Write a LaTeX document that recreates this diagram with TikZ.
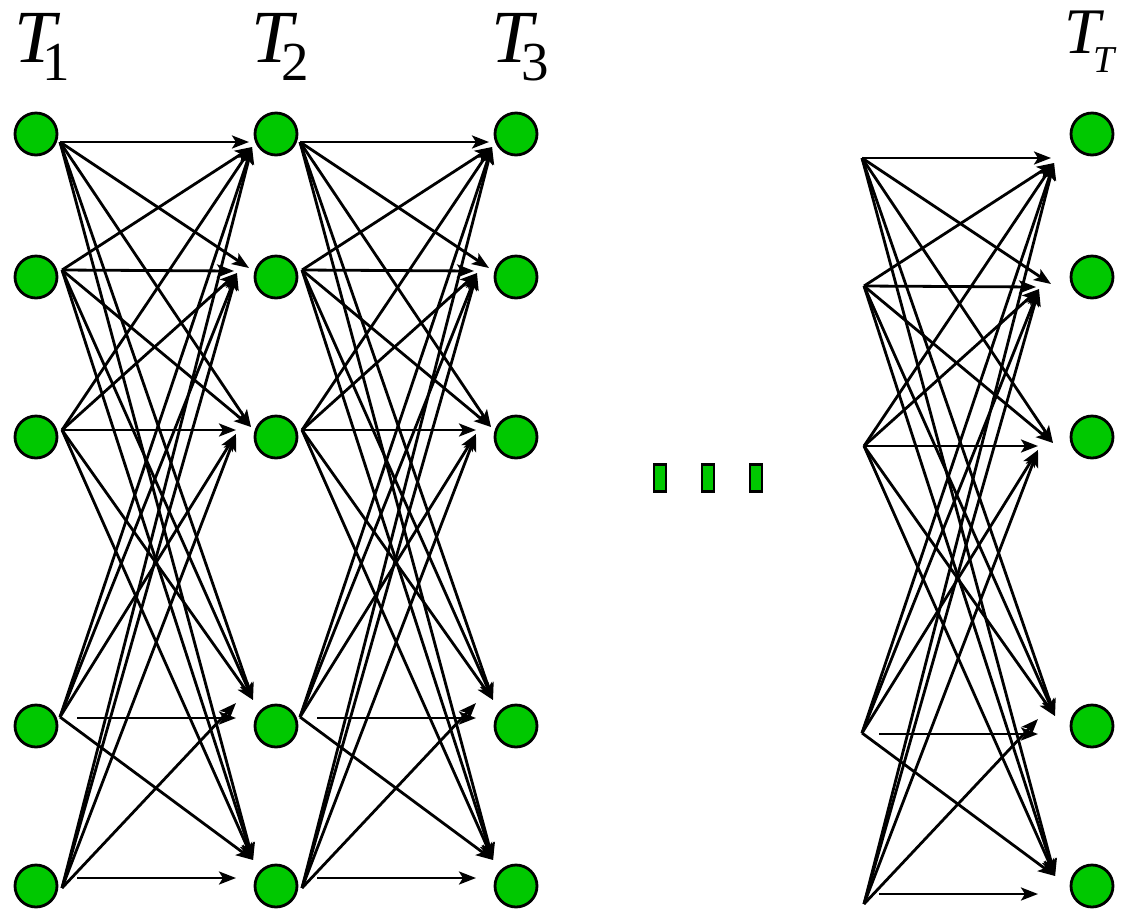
\documentclass[tikz,border=0pt]{standalone}
\usepackage{fontspec}
\setmainfont{Liberation Serif}
\usetikzlibrary{arrows.meta}
\definecolor{nodegreen}{RGB}{0,200,0}

% subscript of a time-slice label: #1 = kern back under the bar of the T, #2 = index
\newcommand{\tsub}[2]{\hspace{#1}\raisebox{-18pt}{\fontsize{55}{55}\selectfont\upshape #2}}

% one layer of the trellis: every state of one slice points to every state of the next
\newcommand{\fan}[3]{%
\begin{scope}[shift={(#2,#3)}]
  % start points
  \coordinate (#1s1) at (60,142);
  \coordinate (#1s2) at (62,270);
  \coordinate (#1s3) at (62,430);
  \coordinate (#1s4) at (60,717);
  \coordinate (#1s5) at (62,888);
  \coordinate (#1h4) at (77,718);
  \coordinate (#1h5) at (77,878);
  % arrow tips: d = coming from above, e = level, u = coming from below
  \coordinate (#1e1) at (249,142);
  \coordinate (#1u1) at (252,147);
  \coordinate (#1d2) at (249,268);
  \coordinate (#1e2) at (234,271);
  \coordinate (#1u2) at (237,273);
  \coordinate (#1d3) at (251,427);
  \coordinate (#1e3) at (236,430);
  \coordinate (#1u3) at (236,434);
  \coordinate (#1d4) at (253,700);
  \coordinate (#1e4) at (236,718);
  \coordinate (#1u4) at (236,703);
  \coordinate (#1d5) at (253,860);
  \coordinate (#1e5) at (236,878);
  % from state 1
  \draw[link] (#1s1) -- (#1e1);
  \draw[link] (#1s1) -- (#1d2);
  \draw[link] (#1s1) -- (#1d3);
  \draw[link] (#1s1) -- (#1d4);
  \draw[link] (#1s1) -- (#1d5);
  % from state 2
  \draw[link] (#1s2) -- (#1u1);
  \draw[link] (#1s2) -- (#1e2);
  \draw[link] (#1s2) -- (#1d3);
  \draw[link] (#1s2) -- (#1d4);
  \draw[link] (#1s2) -- (#1d5);
  % from state 3
  \draw[link] (#1s3) -- (#1u1);
  \draw[link] (#1s3) -- (#1u2);
  \draw[link] (#1s3) -- (#1e3);
  \draw[link] (#1s3) -- (#1d4);
  \draw[link] (#1s3) -- (#1d5);
  % from state 4
  \draw[link] (#1s4) -- (#1u1);
  \draw[link] (#1s4) -- (#1u2);
  \draw[link] (#1s4) -- (#1u3);
  \draw[link] (#1h4) -- (#1e4);
  \draw[link] (#1s4) -- (#1d5);
  % from state 5
  \draw[link] (#1s5) -- (#1u1);
  \draw[link] (#1s5) -- (#1u2);
  \draw[link] (#1s5) -- (#1u3);
  \draw[link] (#1s5) -- (#1u4);
  \draw[link] (#1h5) -- (#1e5);
\end{scope}}

\begin{document}
\begin{tikzpicture}[x=1pt,y=-1pt,
  state/.style={circle,draw=black,fill=nodegreen,line width=2.8pt,minimum size=42pt,inner sep=0pt},
  link/.style={line width=2.8pt,-{Stealth[length=17pt,width=13pt,inset=4pt]}},
  gap/.style={rectangle,draw=black,fill=nodegreen,line width=2.8pt,minimum width=12pt,minimum height=27pt,inner sep=0pt},
  slice/.style={inner sep=0pt,anchor=base west}]
\useasboundingbox[fill=white] (0,0) rectangle (1125,914);

% slice labels
\node[slice] (l1) at (14,62) {\fontsize{75}{75}\selectfont\itshape T\tsub{-13pt}{1}};
\node[slice] (l2) at (251,62) {\fontsize{75}{75}\selectfont\itshape T\tsub{-11pt}{2}};
\node[slice] (l3) at (491,62) {\fontsize{75}{75}\selectfont\itshape T\tsub{-11pt}{3}};
\node[slice] (lT) at (1064,53) {\fontsize{65}{65}\selectfont\itshape T\hspace{-7pt}\raisebox{-19pt}{\fontsize{38}{38}\selectfont T}};

% arrows between consecutive slices
\fan{a}{0}{0}
\fan{b}{240}{0}
\fan{c}{802}{16}

% states
\foreach \c/\x in {1/36,2/276,3/516,T/1092}
  \foreach \r/\y in {1/134,2/277,3/437,4/726,5/886}
    \node[state] (n\c-\r) at (\x,\y) {};

% omitted slices
\node[gap] (g1) at (660,478) {};
\node[gap] (g2) at (708,478) {};
\node[gap] (g3) at (756,478) {};
\end{tikzpicture}
\end{document}
